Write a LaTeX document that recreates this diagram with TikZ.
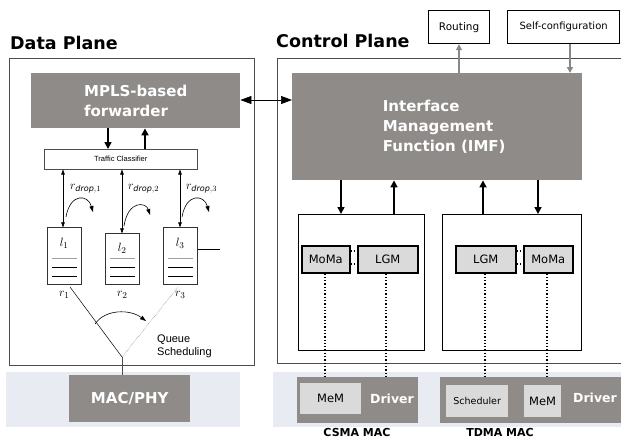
\documentclass[tikz,border=0pt]{standalone}
\usepackage{fontspec}
\setmainfont{DejaVu Sans}
\newfontfamily\arialf{Liberation Sans}
\usetikzlibrary{arrows.meta}
\definecolor{dgray}{HTML}{8E8B89}
\definecolor{lgray}{HTML}{DADADA}
\definecolor{bandc}{HTML}{E8ECF2}
\definecolor{agray}{HTML}{888888}
\begin{document}
\begin{tikzpicture}[x=1pt,y=-1pt,
  plane/.style={draw=black!70, line width=0.8pt},
  graybox/.style={fill=dgray, draw=none, text=white, font=\bfseries\fontsize{15}{20}\selectfont, align=left, inner sep=0pt},
  title/.style={font=\bfseries\fontsize{17.5}{20}\selectfont, anchor=west, inner sep=0pt},
  wbox/.style={draw=black, line width=1.2pt, fill=white, inner sep=0pt},
  subbox/.style={draw=black, line width=1.5pt, fill=lgray, inner sep=0pt, font=\fontsize{11.5}{13}\selectfont},
  membox/.style={fill=lgray, draw=none, inner sep=0pt, font=\fontsize{11.5}{13}\selectfont},
  queue/.style={draw=black!80, line width=0.6pt, fill=white, inner sep=0pt, minimum width=34pt, anchor=south west},
  mlab/.style={inner sep=0pt, font=\fontsize{12.5}{14}\selectfont},
  thick arrow/.style={line width=1.6pt, -{Triangle[length=7pt,width=7pt]}},
  garrow/.style={draw=agray, line width=1.5pt, -{Triangle[length=6pt,width=6pt]}},
  thin dbl/.style={line width=0.5pt, {Triangle[length=5pt,width=3.5pt]}-{Triangle[length=5pt,width=3.5pt]}},
  curl/.style={line width=0.6pt, -{Triangle[length=6pt,width=4pt]}},
  dotl/.style={line width=1.3pt, dotted},
  qline/.style={line width=0.9pt}
]
\useasboundingbox (0,0) rectangle (621,440);

% bands
\fill[bandc] (6,372) rectangle (240,427);
\fill[bandc] (273,372) rectangle (621,427);

% titles
\node[title] (dptitle) at (10,43) {Data Plane};
\node[title] (cptitle) at (276,41) {Control Plane};

% plane boxes
\draw[plane] (9,58) rectangle (254,365);
\draw[plane] (277,58) rectangle (630,363);

% Data plane
\node[graybox, minimum width=209pt, minimum height=55pt, anchor=north west] (mpls) at (31,73) {MPLS-based\\forwarder};
\node[draw=black!70, line width=0.5pt, fill=white, minimum width=153pt, minimum height=20pt, anchor=north west, inner sep=0pt, font=\arialf\fontsize{7.5}{9}\selectfont] (tc) at (44,149) {Traffic Classifier};

\draw[thick arrow] (mpls.south -| 108,0) -- (tc.north -| 108,0);
\draw[thick arrow] (tc.north -| 145,0) -- (mpls.south -| 145,0);

\node[queue, minimum height=57pt] (q1) at (47,285) {};
\node[queue, minimum height=51pt] (q2) at (105,285) {};
\node[queue, minimum height=57pt] (q3) at (163,285) {};

\foreach \q/\lab/\ly in {q1/1/243, q2/2/248, q3/3/243}{
  \node[mlab] (\q l) at (\q.center |- 0,\ly) {$l_{\lab}$};
  \draw[qline, draw=agray!80] ([xshift=5pt]\q.west |- 0,258) -- ([xshift=-5pt]\q.east |- 0,258);
  \draw[qline] ([xshift=5pt]\q.west |- 0,267) -- ([xshift=-5pt]\q.east |- 0,267);
  \draw[line width=0.5pt] ([xshift=5pt]\q.west |- 0,276) -- ([xshift=-5pt]\q.east |- 0,276);
  \node[mlab] (\q r) at (\q.center |- 0,295) {$r_{\lab}$};
}

\draw[thin dbl] (tc.south -| 63,0) -- (q1.north -| 63,0);
\draw[thin dbl] (tc.south -| 122,0) -- (q2.north -| 122,0);
\draw[thin dbl] (tc.south -| 180,0) -- (q3.north -| 180,0);

\node[mlab, anchor=west, font=\fontsize{11.5}{13}\selectfont] (rd1) at (70,189) {$r_{\mathit{drop},1}$};
\node[mlab, anchor=west, font=\fontsize{11.5}{13}\selectfont] (rd2) at (128,189) {$r_{\mathit{drop},2}$};
\node[mlab, anchor=west, font=\fontsize{11.5}{13}\selectfont] (rd3) at (186,189) {$r_{\mathit{drop},3}$};

\draw[curl] (66,217) .. controls (70,193) and (88,194) .. (93,212);
\draw[curl] (124,226) .. controls (128,200) and (146,202) .. (150,215);
\draw[curl] (182,217) .. controls (186,193) and (204,194) .. (209,212);

\draw[line width=0.5pt] (q3.east |- 0,249) -- (220,249);

\coordinate (apex) at (122,357);
\draw[line width=0.5pt] (70,287) -- (apex);
\draw[line width=0.5pt, draw=black!55, densely dotted] (178,287) -- (apex);
\draw[curl] (95,324) .. controls (105,309) and (130,309) .. (146,321);
\node[anchor=west, align=left, inner sep=0pt, font=\arialf\fontsize{11}{13}\selectfont] (qs) at (157,346) {Queue\\Scheduling};

\node[graybox, minimum width=121pt, minimum height=47pt, anchor=north west, align=center] (macphy) at (69,375) {MAC/PHY};
\draw[line width=0.6pt, draw=black!70] (apex) -- (macphy.north -| apex);

% Control plane
\node[graybox, minimum width=290pt, minimum height=107pt, anchor=north west] (imf) at (292,73) {\hspace*{14pt}Interface\\\hspace*{14pt}Management\\\hspace*{14pt}Function (IMF)};

\node[wbox, minimum width=61pt, minimum height=33pt, anchor=north west, font=\fontsize{10.5}{12}\selectfont] (routing) at (428,10) {Routing};
\node[wbox, minimum width=112pt, minimum height=33pt, anchor=north west, font=\fontsize{10}{12}\selectfont] (selfc) at (507,10) {Self-configuration};

\draw[garrow] (imf.north -| 459,0) -- (routing.south -| 459,0);
\draw[garrow] (selfc.south -| 570,0) -- (imf.north -| 570,0);

\draw[line width=0.6pt, {Triangle[length=11pt,width=8pt]}-{Triangle[length=11pt,width=8pt]}] (mpls.east |- 0,100) -- (imf.west |- 0,100);

\node[wbox, minimum width=126pt, minimum height=136pt, anchor=north west] (csma) at (298,214) {};
\node[wbox, minimum width=139pt, minimum height=136pt, anchor=north west] (tdma) at (442,214) {};

\draw[thick arrow] (imf.south -| 341,0) -- (csma.north -| 341,0);
\draw[thick arrow] (csma.north -| 394,0) -- (imf.south -| 394,0);
\draw[thick arrow] (tdma.north -| 483,0) -- (imf.south -| 483,0);
\draw[thick arrow] (imf.south -| 538,0) -- (tdma.north -| 538,0);

\node[subbox, minimum width=48pt, minimum height=27pt, anchor=north west] (moma1) at (301,245) {MoMa};
\node[subbox, minimum width=60pt, minimum height=27pt, anchor=north west] (lgm1) at (357,245) {LGM};
\node[subbox, minimum width=60pt, minimum height=27pt, anchor=north west] (lgm2) at (455,245) {LGM};
\node[subbox, minimum width=49pt, minimum height=27pt, anchor=north west] (moma2) at (523,245) {MoMa};

\draw[dotl] (moma1.east |- 0,251) -- (lgm1.west |- 0,251);
\draw[dotl] (moma1.east |- 0,264) -- (lgm1.west |- 0,264);
\draw[dotl] (lgm2.east |- 0,251) -- (moma2.west |- 0,251);
\draw[dotl] (lgm2.east |- 0,264) -- (moma2.west |- 0,264);

% drivers
\node[fill=dgray, minimum width=121pt, minimum height=46pt, anchor=north west, inner sep=0pt] (drv1) at (297,377) {};
\node[fill=dgray, minimum width=185pt, minimum height=46pt, anchor=north west, inner sep=0pt] (drv2) at (440,377) {};
\node[membox, minimum width=61pt, minimum height=31pt, anchor=north west] (mem1) at (300,383) {MeM};
\node[text=white, font=\bfseries\fontsize{12.5}{14}\selectfont, inner sep=0pt] (drvt1) at (392,399) {Driver};
\node[membox, minimum width=62pt, minimum height=32pt, anchor=north west, font=\fontsize{9.5}{11}\selectfont] (sched) at (446,385) {Scheduler};
\node[membox, minimum width=37pt, minimum height=32pt, anchor=north west] (mem2) at (524,385) {MeM};
\node[text=white, font=\bfseries\fontsize{12.5}{14}\selectfont, inner sep=0pt, anchor=west] (drvt2) at (573,398) {Driver};

\draw[dotl] (moma1.south -| 325,0) -- (drv1.north -| 325,0);
\draw[dotl] (lgm1.south -| 386,0) -- (drv1.north -| 386,0);
\draw[dotl] (lgm2.south -| 485,0) -- (drv2.north -| 485,0);
\draw[dotl] (moma2.south -| 547,0) -- (drv2.north -| 547,0);

\node[font=\bfseries\fontsize{11}{13}\selectfont, inner sep=0pt] (csmal) at (357,432) {CSMA MAC};
\node[font=\bfseries\fontsize{11}{13}\selectfont, inner sep=0pt] (tdmal) at (500,432) {TDMA MAC};
\end{tikzpicture}
\end{document}
